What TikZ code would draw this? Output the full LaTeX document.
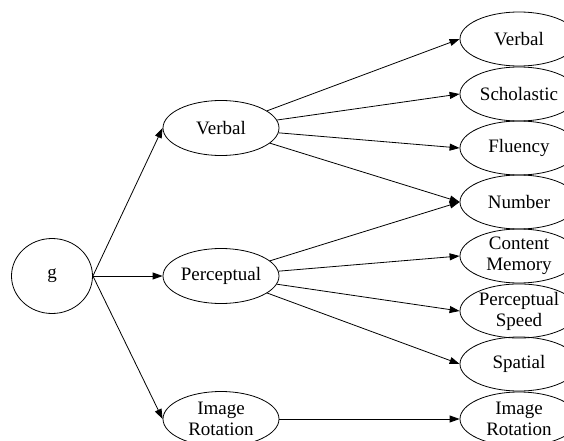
\documentclass[tikz,border=0pt]{standalone}
\usepackage{fontspec}
\setmainfont{Liberation Serif}
\usetikzlibrary{arrows.meta,shapes.geometric}

\begin{document}
\begin{tikzpicture}[x=1pt,y=-1pt,
  factor/.style={draw,ellipse,line width=0.8pt,inner sep=0pt,align=center,
    font=\fontsize{19}{21}\selectfont},
  path/.style={-{Triangle[length=10pt,width=7pt]},line width=0.8pt}]
\useasboundingbox (0,0) rectangle (564,441);
% general factor
\node[factor,minimum width=81pt,minimum height=75pt] (g) at (52,276) {g};
% second order factors
\node[factor,minimum width=116pt,minimum height=55pt] (verb) at (221,128) {Verbal};
\node[factor,minimum width=116pt,minimum height=55pt] (perc) at (221,276) {Perceptual};
\node[factor,minimum width=116pt,minimum height=55pt] (imgr) at (221,419) {Image\\Rotation};
% first order factors
\node[factor,minimum width=118pt,minimum height=54pt] (f1) at (519,39) {Verbal};
\node[factor,minimum width=118pt,minimum height=54pt] (f2) at (519,94) {Scholastic};
\node[factor,minimum width=118pt,minimum height=54pt] (f3) at (519,148) {Fluency};
\node[factor,minimum width=118pt,minimum height=54pt] (f4) at (519,202) {Number};
\node[factor,minimum width=118pt,minimum height=54pt] (f5) at (519,256) {Content\\Memory};
\node[factor,minimum width=118pt,minimum height=54pt] (f6) at (519,311) {Perceptual\\Speed};
\node[factor,minimum width=118pt,minimum height=54pt] (f7) at (519,364) {Spatial};
\node[factor,minimum width=118pt,minimum height=54pt] (f8) at (519,419) {Image\\Rotation};
% loadings
\draw[path] (g.east) -- (verb.west);
\draw[path] (g.east) -- (perc.west);
\draw[path] (g.east) -- (imgr.west);
\foreach \t in {f1,f2,f3,f4} \draw[path] (verb) -- (\t.west);
\foreach \t in {f4,f5,f6,f7} \draw[path] (perc) -- (\t.west);
\draw[path] (imgr) -- (f8.west);
\end{tikzpicture}
\end{document}
